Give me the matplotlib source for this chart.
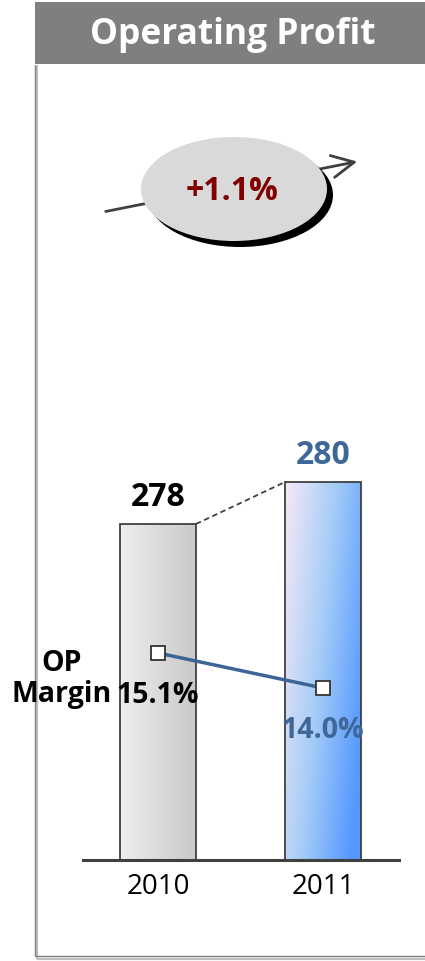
import numpy as np
import matplotlib
matplotlib.use("Agg")
import matplotlib.pyplot as plt
import matplotlib.patches as patches
from matplotlib.colors import LinearSegmentedColormap

years = ["2010", "2011"]
op_profit = [278, 280]
op_margin = [15.1, 14.0]
growth_label = "+1.1%"
title = "Operating Profit"

plt.rcParams['font.family'] = ['Open Sans', 'DejaVu Sans']

W, H = 425, 962
fig = plt.figure(figsize=(W / 100, H / 100), dpi=100)

# pixel overlay for frame, header and the growth bubble
bg = fig.add_axes([0, 0, 1, 1])
bg.set_xlim(0, W)
bg.set_ylim(H, 0)
bg.axis('off')

# frame with shadow
bg.plot([37.5, 37.5], [66, 959.5], color='#bfbfbf', lw=1.6, solid_capstyle='butt')
bg.plot([37.5, W], [959.5, 959.5], color='#bfbfbf', lw=1.6, solid_capstyle='butt')
bg.plot([35.5, 35.5], [66, 957], color='#808080', lw=1.0, solid_capstyle='butt')
bg.plot([35.5, W], [957, 957], color='#808080', lw=1.0, solid_capstyle='butt')

# header
bg.add_patch(patches.Rectangle((35, 3), W - 35, 62, facecolor='#7f7f7f', edgecolor='none'))
bg.text(233, 35, title, color='white', fontsize=25.5, fontweight='bold',
        ha='center', va='center')

# growth arrow + bubble (arrow passes behind the bubble)
bg.annotate('', xy=(360, 162), xytext=(103, 213),
            arrowprops=dict(arrowstyle='->,head_length=1.6,head_width=0.8',
                            color='#404040', lw=2), zorder=1)
bg.add_patch(patches.Ellipse((240, 196), 186, 104, facecolor='black',
                             edgecolor='none', zorder=2))
bg.add_patch(patches.Ellipse((234, 190), 186, 104, facecolor='#d9d9d9',
                             edgecolor='none', zorder=3))
bg.text(232, 191, growth_label, color='#800000', fontsize=23, fontweight='bold',
        ha='center', va='center', zorder=4)

# "OP Margin" label
bg.text(62, 679, "OP\nMargin", color='black', fontsize=20.5, fontweight='bold',
        ha='center', va='center', linespacing=1.1)

# main chart axes: baseline at y=861, 21 px per unit
left, right, base, top = 83, 399, 861, 441
ax = fig.add_axes([left / W, (H - base) / H, (right - left) / W, (base - top) / H])
ax.patch.set_alpha(0)
x = np.arange(len(years))
bw = 0.46

grey = LinearSegmentedColormap.from_list('g', ['#eeeeee', '#c9c9c9'])
blue = LinearSegmentedColormap.from_list('b', ['#f7e8f6', '#a6cdf7', '#5598ff'])
ny, nx = 200, 60
u = np.linspace(0, 1, nx)[None, :]
v = np.linspace(0, 1, ny)[:, None]
grads = [np.repeat(u, ny, axis=0), np.clip(0.75 * u + 0.35 * v, 0, 1)]
cmaps = [grey, blue]

bars = ax.bar(x, op_profit, width=bw, bottom=0, facecolor='none',
              edgecolor='#404040', linewidth=1.3, zorder=3)
for b, g, cm in zip(bars, grads, cmaps):
    x0 = b.get_x()
    h = b.get_height()
    im = ax.imshow(g, cmap=cm, aspect='auto', extent=[x0, x0 + bw, 262, h],
                   origin='upper', zorder=2, interpolation='bilinear')
    im.set_clip_path(b)
ax.set_xlim(-75 / 165, 1 + 76 / 165)
ax.set_ylim(262, 282)

# dashed connector between bar tops
ax.plot([x[0] + bw / 2, x[1] - bw / 2], op_profit, color='#404040', lw=1.3,
        ls=(0, (3, 2)), zorder=4)

val_colors = ['black', '#3f6797']
for xi, val, c in zip(x, op_profit, val_colors):
    ax.annotate(str(val), (xi, val), xytext=(0, 20), textcoords='offset points',
                ha='center', va='center', fontsize=23, fontweight='bold', color=c)

# margin line on a twin scale
ax2 = ax.twinx()
ax2.set_ylim(15.1 - 207 / 31.82, 15.1 + 213 / 31.82)
ax2.axis('off')
ax2.plot(x, op_margin, color='#3c6496', lw=2.5, marker='s', markersize=10,
         markerfacecolor='white', markeredgecolor='#333333', markeredgewidth=1.3,
         zorder=5)
mcolors = ['black', '#3f6797']
for xi, val, c in zip(x, op_margin, mcolors):
    ax2.annotate(f"{val:.1f}%", (xi, val), xytext=(0, -30), textcoords='offset points',
                 ha='center', va='center', fontsize=20.5, fontweight='bold', color=c)

for s in ['top', 'left', 'right']:
    ax.spines[s].set_visible(False)
ax.spines['bottom'].set_color('#404040')
ax.spines['bottom'].set_linewidth(2.2)
ax.set_yticks([])
ax.set_xticks(x)
ax.set_xticklabels(years, fontsize=20)
ax.tick_params(axis='x', length=0, pad=9)

fig.savefig('out.png', dpi=100)
